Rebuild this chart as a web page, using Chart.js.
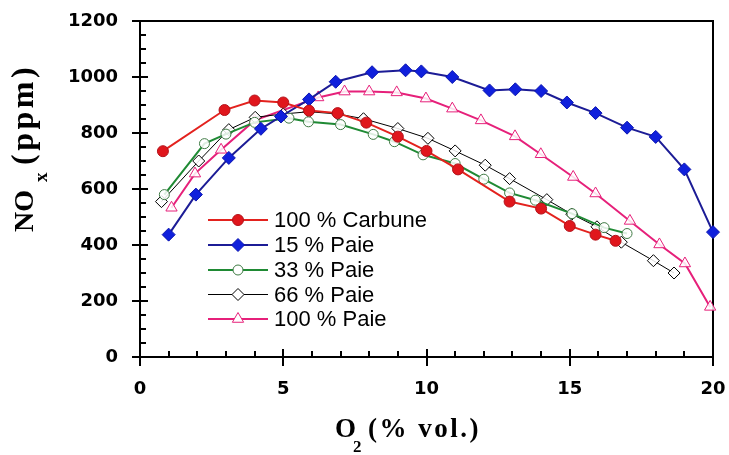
<!DOCTYPE html>
<html>
<head>
<meta charset="utf-8">
<script src="https://cdn.jsdelivr.net/npm/chart.js@4/dist/chart.umd.min.js"></script>
<style>
  html, body { margin: 0; padding: 0; background: #fff; }
  #wrap { width: 729px; height: 455px; position: relative; }
</style>
</head>
<body>
<div id="wrap"><canvas id="c"></canvas></div>
<script>
// NOx emissions versus O2 content in the flue gas, for coal and straw ("paie") blends
const seriesNames = ['100 % Carbune', '15 % Paie', '33 % Paie', '66 % Paie', '100 % Paie'];

const carbuneO2  = [0.8, 2.95, 4.0, 5.0, 5.9, 6.9, 7.9, 9.0, 10.0, 11.1, 12.9, 14.0, 15.0, 15.9, 16.6];
const carbuneNOx = [735, 882, 916, 909, 880, 871, 837, 787, 736, 670, 555, 530, 468, 437, 415];

const paie15O2  = [1.0, 1.95, 3.1, 4.22, 4.92, 5.9, 6.83, 8.1, 9.27, 9.82, 10.9, 12.2, 13.1, 14.0, 14.9, 15.9, 17.0, 18.0, 19.0, 20.0];
const paie15NOx = [437, 580, 711, 815, 859, 920, 983, 1017, 1024, 1020, 1000, 952, 956, 950, 909, 871, 819, 786, 670, 446];

const paie33O2  = [0.85, 2.25, 3.0, 4.0, 5.2, 5.88, 7.0, 8.14, 8.88, 9.88, 11.0, 12.0, 12.9, 13.8, 15.08, 16.2, 17.0];
const paie33NOx = [580, 762, 796, 838, 853, 840, 830, 795, 769, 722, 691, 635, 586, 560, 512, 462, 441];

const paie66O2  = [0.75, 2.05, 3.1, 4.02, 5.0, 5.9, 6.9, 7.8, 9.0, 10.05, 11.0, 12.05, 12.9, 14.2, 15.07, 15.95, 16.8, 17.92, 18.64];
const paie66NOx = [555, 700, 812, 856, 868, 876, 868, 851, 816, 781, 736, 685, 637, 562, 510, 465, 410, 344, 300];

const paie100O2  = [1.1, 1.92, 2.83, 4.0, 6.22, 7.14, 8.0, 8.96, 9.98, 10.9, 11.9, 13.09, 13.99, 15.12, 15.9, 17.1, 18.13, 19.02, 19.9];
const paie100NOx = [533, 655, 740, 845, 927, 948, 948, 945, 923, 887, 845, 788, 724, 643, 584, 486, 402, 334, 179];

const xTickValues = [0, 5, 10, 15, 20];
const yTickValues = [0, 200, 400, 600, 800, 1000, 1200];

const toPoints = (xs, ys) => xs.map((x, i) => ({ x: x, y: ys[i] }));
const OPEN = 'rgba(255,255,255,0.85)';

const datasets = [
  { label: seriesNames[0], data: toPoints(carbuneO2, carbuneNOx),
    borderColor: '#e3221e', borderWidth: 2,
    pointStyle: 'circle', pointRadius: 5.5, pointBorderWidth: 1,
    pointBackgroundColor: '#e0161c', pointBorderColor: '#b3121a' },
  { label: seriesNames[1], data: toPoints(paie15O2, paie15NOx),
    borderColor: '#1c1c96', borderWidth: 2,
    pointStyle: 'rectRot', pointRadius: 6.5, pointBorderWidth: 1,
    pointBackgroundColor: '#1020dc', pointBorderColor: '#0a14b0' },
  { label: seriesNames[2], data: toPoints(paie33O2, paie33NOx),
    borderColor: '#1f8a34', borderWidth: 2,
    pointStyle: 'circle', pointRadius: 5, pointBorderWidth: 1,
    pointBackgroundColor: OPEN, pointBorderColor: '#3f7a44' },
  { label: seriesNames[3], data: toPoints(paie66O2, paie66NOx),
    borderColor: '#000000', borderWidth: 1,
    pointStyle: 'rectRot', pointRadius: 6, pointBorderWidth: 1,
    pointBackgroundColor: OPEN, pointBorderColor: '#000000' },
  { label: seriesNames[4], data: toPoints(paie100O2, paie100NOx),
    borderColor: '#e6207a', borderWidth: 2,
    pointStyle: 'triangle', pointRadius: 6.5, pointBorderWidth: 1,
    pointBackgroundColor: OPEN, pointBorderColor: '#e6207a' }
].map(d => Object.assign({ showLine: true, fill: false, tension: 0, clip: false }, d));

// Frame, crossing major ticks and inward minor ticks
const axesFrame = {
  id: 'axesFrame',
  beforeDatasetsDraw(chart) {
    const { ctx, chartArea: a, scales: { x, y } } = chart;
    ctx.save();
    ctx.strokeStyle = '#000';
    ctx.lineCap = 'butt';
    ctx.lineWidth = 2;
    ctx.beginPath();
    ctx.moveTo(a.left, a.bottom); ctx.lineTo(a.right, a.bottom);
    ctx.moveTo(a.left, a.bottom); ctx.lineTo(a.left, a.top);
    ctx.moveTo(a.left - 1, a.top); ctx.lineTo(a.right, a.top);
    ctx.lineTo(a.right, a.bottom + 1);
    ctx.stroke();

    ctx.beginPath();
    for (let v = x.min; v <= x.max; v += 1) {
      const px = Math.round(x.getPixelForValue(v));
      if (xTickValues.includes(v)) { ctx.moveTo(px, a.bottom - 8); ctx.lineTo(px, a.bottom + 9); }
      else { ctx.moveTo(px, a.bottom - 6); ctx.lineTo(px, a.bottom); }
    }
    for (let v = y.min; v <= y.max; v += 50) {
      const py = Math.round(y.getPixelForValue(v));
      if (yTickValues.includes(v)) { ctx.moveTo(a.left - 8, py); ctx.lineTo(a.left + 8, py); }
      else { ctx.moveTo(a.left, py); ctx.lineTo(a.left + 6, py); }
    }
    ctx.stroke();
    ctx.restore();
  }
};

// Axis titles with subscripts
const axisTitles = {
  id: 'axisTitles',
  afterDraw(chart) {
    const { ctx } = chart;
    const serif = '"Liberation Serif", "Times New Roman", serif';
    ctx.save();
    ctx.fillStyle = '#000';
    ctx.textBaseline = 'alphabetic';
    ctx.textAlign = 'left';

    // x axis: O2 (% vol.)
    ctx.font = 'bold 27px ' + serif;
    ctx.fillText('O', 335, 437);
    ctx.font = 'bold 17px ' + serif;
    ctx.fillText('2', 353, 452);
    ctx.font = 'bold 27px ' + serif;
    ctx.letterSpacing = '2.5px';
    ctx.fillText('(% vol.)', 368, 437);
    ctx.letterSpacing = '0px';

    // y axis: NOx (ppm)
    ctx.translate(33, 232);
    ctx.rotate(-Math.PI / 2);
    ctx.font = 'bold 28px ' + serif;
    ctx.fillText('NO', 0, 0);
    ctx.font = 'bold 19px ' + serif;
    ctx.fillText('x', 50, 14);
    ctx.font = 'bold 32px ' + serif;
    ctx.letterSpacing = '3.5px';
    ctx.fillText('(ppm)', 67, 0);
    ctx.restore();
  }
};

// Legend inside the plot area
const insideLegend = {
  id: 'insideLegend',
  afterDatasetsDraw(chart) {
    const { ctx } = chart;
    const rowY = [220, 245, 270, 294.5, 319];
    ctx.save();
    chart.data.datasets.forEach((ds, i) => {
      const yy = rowY[i];
      ctx.strokeStyle = ds.borderColor;
      ctx.lineWidth = ds.borderWidth;
      ctx.beginPath();
      ctx.moveTo(208, yy); ctx.lineTo(268, yy);
      ctx.stroke();
      ctx.fillStyle = ds.pointBackgroundColor === OPEN ? '#fff' : ds.pointBackgroundColor;
      ctx.strokeStyle = ds.pointBorderColor;
      ctx.lineWidth = ds.pointBorderWidth;
      Chart.helpers.drawPoint(ctx, { pointStyle: ds.pointStyle, radius: ds.pointRadius, rotation: 0, borderWidth: ds.pointBorderWidth }, 238, yy);
      ctx.fillStyle = '#000';
      ctx.font = '22px "Liberation Sans", Arial, sans-serif';
      ctx.textBaseline = 'middle';
      ctx.textAlign = 'left';
      ctx.fillText(ds.label, 274, yy + 1);
    });
    ctx.restore();
  }
};

const tickFont = { family: '"DejaVu Sans", Arial, sans-serif', weight: 'bold', size: 18 };

new Chart(document.getElementById('c'), {
  type: 'scatter',
  data: { datasets: datasets },
  options: {
    responsive: true,
    maintainAspectRatio: false,
    animation: false,
    devicePixelRatio: 1,
    layout: { padding: { left: 0, top: 21, right: 16, bottom: 0 } },
    plugins: { legend: { display: false }, tooltip: { enabled: false } },
    scales: {
      x: {
        type: 'linear', min: 0, max: 20,
        afterFit(s) { s.height = 98; s.paddingLeft = 0; s.paddingRight = 0; },
        afterBuildTicks(s) { s.ticks = xTickValues.map(v => ({ value: v })); },
        grid: { display: false, drawTicks: false },
        border: { display: false },
        ticks: { font: tickFont, color: '#000', padding: 22, maxRotation: 0, callback: v => String(v) }
      },
      y: {
        type: 'linear', min: 0, max: 1200,
        afterFit(s) { s.width = 140; s.paddingTop = 0; s.paddingBottom = 0; },
        afterBuildTicks(s) { s.ticks = yTickValues.map(v => ({ value: v })); },
        grid: { display: false, drawTicks: false },
        border: { display: false },
        ticks: { font: tickFont, color: '#000', padding: 22, callback: v => String(v) }
      }
    }
  },
  plugins: [axesFrame, insideLegend, axisTitles]
});
</script>
</body>
</html>
